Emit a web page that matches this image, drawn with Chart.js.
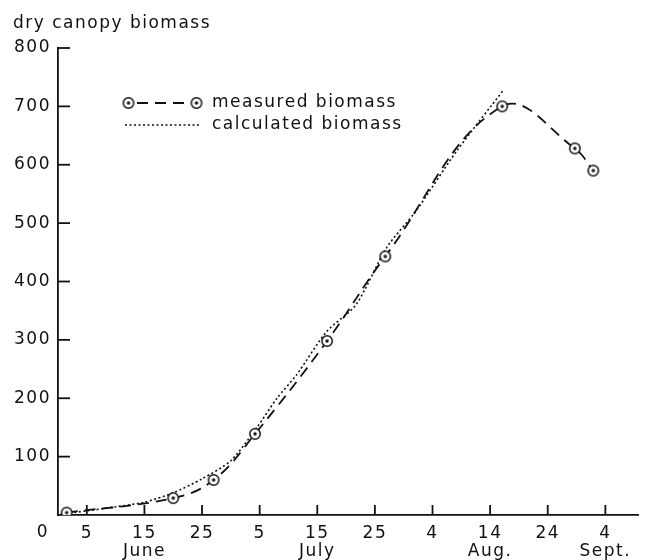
<!DOCTYPE html>
<html>
<head>
<meta charset="utf-8">
<script src="https://cdn.jsdelivr.net/npm/chart.js@4"></script>
<style>
  html, body { margin: 0; padding: 0; background: #fff; }
  #wrap { width: 646px; height: 560px; }
</style>
</head>
<body>
<div id="wrap"><canvas id="biomass-chart"></canvas></div>
<script>
// days counted from 31 May (June 5 = 5, July 5 = 35, Aug 4 = 65 ...)
const measuredDays = [1.5, 20, 27, 34.2, 46.7, 56.8, 77.1, 89.7, 92.9];
const measuredBiomass = [4, 29, 60, 139, 298, 443, 700, 628, 590];

const calculatedDays = [0.5, 5, 10, 15, 20, 25, 30, 34.6, 38, 41.4, 46.6, 51.7, 57.1, 62, 69.3, 77.4];
const calculatedBiomass = [2, 7, 14, 22, 38, 62, 93, 151, 200, 240, 314, 360, 459, 519, 625, 729];

const xTicks = [5, 15, 25, 35, 45, 55, 65, 75, 85, 95];
const xTickLabels = ['5', ['15', 'June'], '25', '5', ['15', 'July'], '25', '4', ['14', 'Aug.'], '24', ['4', 'Sept.']];
const yTicks = [0, 100, 200, 300, 400, 500, 600, 700, 800];

const FONT = '"DejaVu Sans", sans-serif';
const INK = '#111';

function toPoints(xs, ys) {
    return xs.map((x, i) => ({ x: x, y: ys[i] }));
}

// circle with a dot in the middle
function makeMarker() {
    const c = document.createElement('canvas');
    c.width = 14;
    c.height = 14;
    const g = c.getContext('2d');
    g.beginPath();
    g.arc(7, 7, 5.2, 0, Math.PI * 2);
    g.fillStyle = '#fff';
    g.fill();
    g.lineWidth = 1.5;
    g.strokeStyle = INK;
    g.stroke();
    g.beginPath();
    g.arc(7, 7, 1.7, 0, Math.PI * 2);
    g.fillStyle = INK;
    g.fill();
    return c;
}
const marker = makeMarker();

// spacing like the original lettering
const spacingPlugin = {
    id: 'spacing',
    beforeInit(chart) { chart.ctx.letterSpacing = '1.5px'; },
    beforeLayout(chart) { chart.ctx.letterSpacing = '1.5px'; },
    beforeDraw(chart) { chart.ctx.letterSpacing = '1.5px'; }
};

// inward tick marks, corner "0", axis title and legend
const decorPlugin = {
    id: 'decor',
    afterDraw(chart) {
        const ctx = chart.ctx;
        const xs = chart.scales.x;
        const ys = chart.scales.y;
        const area = chart.chartArea;
        ctx.save();
        ctx.letterSpacing = '1.5px';
        ctx.strokeStyle = INK;
        ctx.lineWidth = 1.8;
        ctx.setLineDash([]);

        yTicks.forEach(v => {
            if (v === 0) return;
            const py = ys.getPixelForValue(v);
            ctx.beginPath();
            ctx.moveTo(area.left, py);
            ctx.lineTo(area.left + 12, py);
            ctx.stroke();
        });
        xTicks.forEach(v => {
            const px = xs.getPixelForValue(v);
            ctx.beginPath();
            ctx.moveTo(px, area.bottom);
            ctx.lineTo(px, area.bottom - 10);
            ctx.stroke();
        });

        ctx.fillStyle = INK;
        ctx.font = '17px ' + FONT;
        ctx.textBaseline = 'middle';
        ctx.textAlign = 'right';
        ctx.fillText('0', area.left - 9, area.bottom + 18);

        ctx.textAlign = 'left';
        ctx.fillText('dry canopy biomass', 13, 24);

        // legend
        const ds0 = chart.data.datasets[0];
        const ds1 = chart.data.datasets[1];
        const row1 = 103, row2 = 125;
        ctx.lineWidth = ds0.borderWidth;
        ctx.setLineDash(ds0.borderDash);
        ctx.beginPath();
        ctx.moveTo(137, row1);
        ctx.lineTo(190, row1);
        ctx.stroke();
        ctx.setLineDash([]);
        ctx.drawImage(marker, 128.5 - 7, row1 - 7);
        ctx.drawImage(marker, 196.5 - 7, row1 - 7);
        ctx.lineWidth = ds1.borderWidth;
        ctx.setLineDash(ds1.borderDash);
        ctx.beginPath();
        ctx.moveTo(125, row2);
        ctx.lineTo(200, row2);
        ctx.stroke();
        ctx.setLineDash([]);
        ctx.fillText(ds0.label, 212, row1);
        ctx.fillText(ds1.label, 212, row2);
        ctx.restore();
    }
};

function createChart() {
    const ctx = document.getElementById('biomass-chart').getContext('2d');
    new Chart(ctx, {
        type: 'line',
        data: {
            datasets: [{
                label: 'measured biomass',
                data: toPoints(measuredDays, measuredBiomass),
                borderColor: INK,
                borderWidth: 1.8,
                borderDash: [11, 7],
                tension: 0.4,
                pointStyle: marker,
                pointRadius: 6,
                fill: false
            }, {
                label: 'calculated biomass',
                data: toPoints(calculatedDays, calculatedBiomass),
                borderColor: INK,
                borderWidth: 1.6,
                borderDash: [2, 2.5],
                tension: 0.25,
                pointRadius: 0,
                fill: false
            }]
        },
        options: {
            responsive: true,
            maintainAspectRatio: false,
            animation: false,
            layout: { padding: { top: 48, right: 0, left: 0, bottom: 0 } },
            plugins: {
                legend: { display: false },
                tooltip: { enabled: false }
            },
            scales: {
                x: {
                    type: 'linear',
                    min: 0,
                    max: 100.7,
                    afterBuildTicks: scale => { scale.ticks = xTicks.map(v => ({ value: v })); },
                    afterFit: scale => { scale.height = 45; },
                    grid: { drawOnChartArea: false, drawTicks: false },
                    border: { display: true, color: INK, width: 1.8 },
                    ticks: {
                        color: INK,
                        padding: 9,
                        maxRotation: 0,
                        autoSkip: false,
                        font: { family: FONT, size: 17, lineHeight: 1.08 },
                        callback: (value, index) => xTickLabels[index]
                    }
                },
                y: {
                    min: 0,
                    max: 800,
                    afterBuildTicks: scale => { scale.ticks = yTicks.map(v => ({ value: v })); },
                    afterFit: scale => { scale.width = 58; },
                    grid: { drawOnChartArea: false, drawTicks: false },
                    border: { display: true, color: INK, width: 1.8 },
                    ticks: {
                        color: INK,
                        padding: 7,
                        font: { family: FONT, size: 17 },
                        callback: value => value === 0 ? '' : value
                    }
                }
            }
        },
        plugins: [spacingPlugin, decorPlugin]
    });
}

document.addEventListener('DOMContentLoaded', createChart);
</script>
</body>
</html>
